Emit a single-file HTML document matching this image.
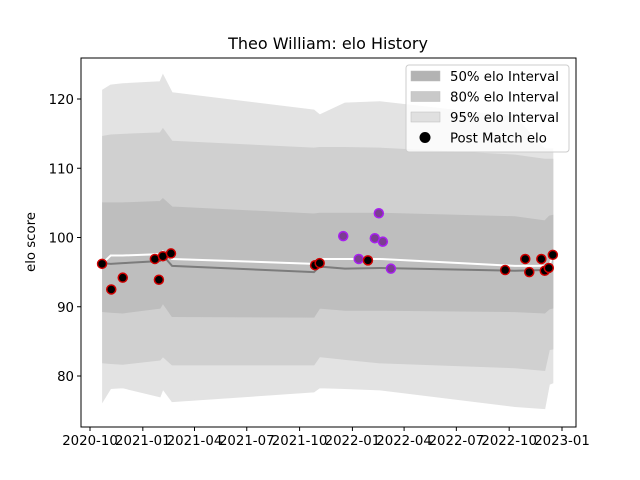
<!DOCTYPE html>
<html><head><meta charset="utf-8"><style>
body{margin:0;background:#fff;}
svg{display:block;font-family:"DejaVu Sans","Liberation Sans",sans-serif;}
</style></head><body>
<svg id="chart" width="640" height="480" viewBox="0 0 640 480"></svg>
<script>
// band knots: days since 2020-10-01
const knotDays=[22,36,57,122,127,143,390,400,444,505,740,792,800,806];
const meanLine=[96.3,96.2,96.3,96.6,97.4,95.9,95.0,95.8,95.5,95.6,95.2,95.3,95.3,95.9];
const whiteLine=[96.3,97.4,97.4,97.6,98.0,96.9,96.2,96.9,96.9,96.9,95.9,95.9,95.9,97.6];
const up50=[105,105,105,105.2,105.6,104.4,103.4,103.5,103.5,103.5,103,102.4,103.1,103.2];
const lo50=[89.3,89.2,89.1,89.8,90.5,88.6,88.5,89.8,89.5,89.5,89.3,89.1,89.7,89.8];
const up80=[114.6,114.8,114.9,115.1,115.7,113.9,112.9,113.0,113.0,112.9,111.9,111.3,111.3,111.3];
const lo80=[81.9,81.8,81.7,82.3,82.8,81.6,81.6,82.8,82.4,81.9,81.2,80.8,83.8,83.9];
const up95=[121.3,122.0,122.2,122.5,123.5,120.9,118.4,117.7,119.4,119.6,117.4,112.8,112.8,112.8];
const lo95=[76.3,78.2,78.3,77.0,78.1,76.3,77.7,78.3,78.2,78.0,75.6,75.3,78.8,79.0];
// matches
const matchDays=[21,37,57,113,120,127,141,392,400,441,468,484,496,503,510,524,723,758,765,786,792,799,806];
const matchElo=[96.2,92.5,94.2,96.9,93.9,97.3,97.7,96.0,96.3,100.2,96.9,96.7,99.9,103.5,99.4,95.5,95.3,96.9,95.0,96.9,95.2,95.6,97.5];
const matchKind=["b","b","b","b","b","b","b","b","b","p","p","b","p","p","p","p","b","b","b","b","b","b","b"];
const yTicks=[80,90,100,110,120];
const xTickLabels=["2020-10","2021-01","2021-04","2021-07","2021-10","2022-01","2022-04","2022-07","2022-10","2023-01"];
const xTickDays=[0,92,182,273,365,457,547,638,730,822];

const NS="http://www.w3.org/2000/svg";
const svg=document.getElementById('chart');
const L=81,R=576,T=58,B=427;
const xs=d=>90+d*(472/822);
const ys=v=>376-(v-80)*6.925;
function mk(tag,attrs,parent){const e=document.createElementNS(NS,tag);for(const k in attrs)e.setAttribute(k,attrs[k]);(parent||svg).appendChild(e);return e;}
function band(up,lo,fill,name){
  let p=knotDays.map((d,i)=>xs(d)+','+ys(up[i]));
  let q=knotDays.map((d,i)=>xs(d)+','+ys(lo[i])).reverse();
  const e=mk('polygon',{points:p.concat(q).join(' '),fill:fill,stroke:fill});
  
  
}
band(up95,lo95,'#e3e3e3','band-95');
band(up80,lo80,'#d0d0d0','band-80');
band(up50,lo50,'#bebebe','band-50');
function line(vals,color,w,name){
  const e=mk('polyline',{points:knotDays.map((d,i)=>xs(d)+','+ys(vals[i])).join(' '),fill:'none',stroke:color,'stroke-width':w});
  
  
}
line(meanLine,'#7c7c7c',2,'mean-elo-line');
line(whiteLine,'#ffffff',2,'expected-elo-line');
matchDays.forEach((d,i)=>{
  const pur=matchKind[i]==='p';
  const c=mk('circle',{cx:xs(d),cy:ys(matchElo[i]),r:4.5,fill:pur?'#7b3d91':'#000',stroke:pur?'#a81ff0':'#d00000','stroke-width':1.5});
  
  
});
const fr=mk('rect',{x:L,y:T,width:R-L,height:B-T,fill:'none',stroke:'#000','stroke-width':1});


yTicks.forEach(v=>{
  mk('line',{x1:L-4,x2:L,y1:ys(v),y2:ys(v),stroke:'#000'});
  const t=mk('text',{x:L-7,y:ys(v)+5,'text-anchor':'end','font-size':13.3});
  t.textContent=v;
  
  
});
xTickDays.forEach((d,i)=>{
  mk('line',{x1:xs(d),x2:xs(d),y1:B,y2:B+4,stroke:'#000'});
  const t=mk('text',{x:xs(d),y:B+18,'text-anchor':'middle','font-size':13.3});
  t.textContent=xTickLabels[i];
  
  
});
const yt=mk('text',{x:35,y:242,'text-anchor':'middle','font-size':13.3,transform:'rotate(-90 35 242)'});
yt.textContent='elo score';


const ti=mk('text',{x:328,y:49,'text-anchor':'middle','font-size':16});
ti.textContent='Theo William: elo History';


const lg=mk('g',{});


mk('rect',{x:406,y:65,width:163,height:87,rx:3,fill:'#fff','fill-opacity':0.8,stroke:'#ccc'},lg);
const legItems=[['50% elo Interval','#b3b3b3'],['80% elo Interval','#c9c9c9'],['95% elo Interval','#e0e0e0'],['Post Match elo',null]];
legItems.forEach((it,i)=>{
  const y=76+i*20.5;
  if(it[1]){mk('rect',{x:411,y:y-5,width:29,height:10,fill:it[1],stroke:'#bbb','stroke-width':0.5},lg);}
  else{mk('circle',{cx:425,cy:y,r:5.5,fill:'#000'},lg);}
  const t=mk('text',{x:450,y:y+5,'font-size':13.3},lg);
  t.textContent=it[0];
  
  
});
</script>
</body></html>
